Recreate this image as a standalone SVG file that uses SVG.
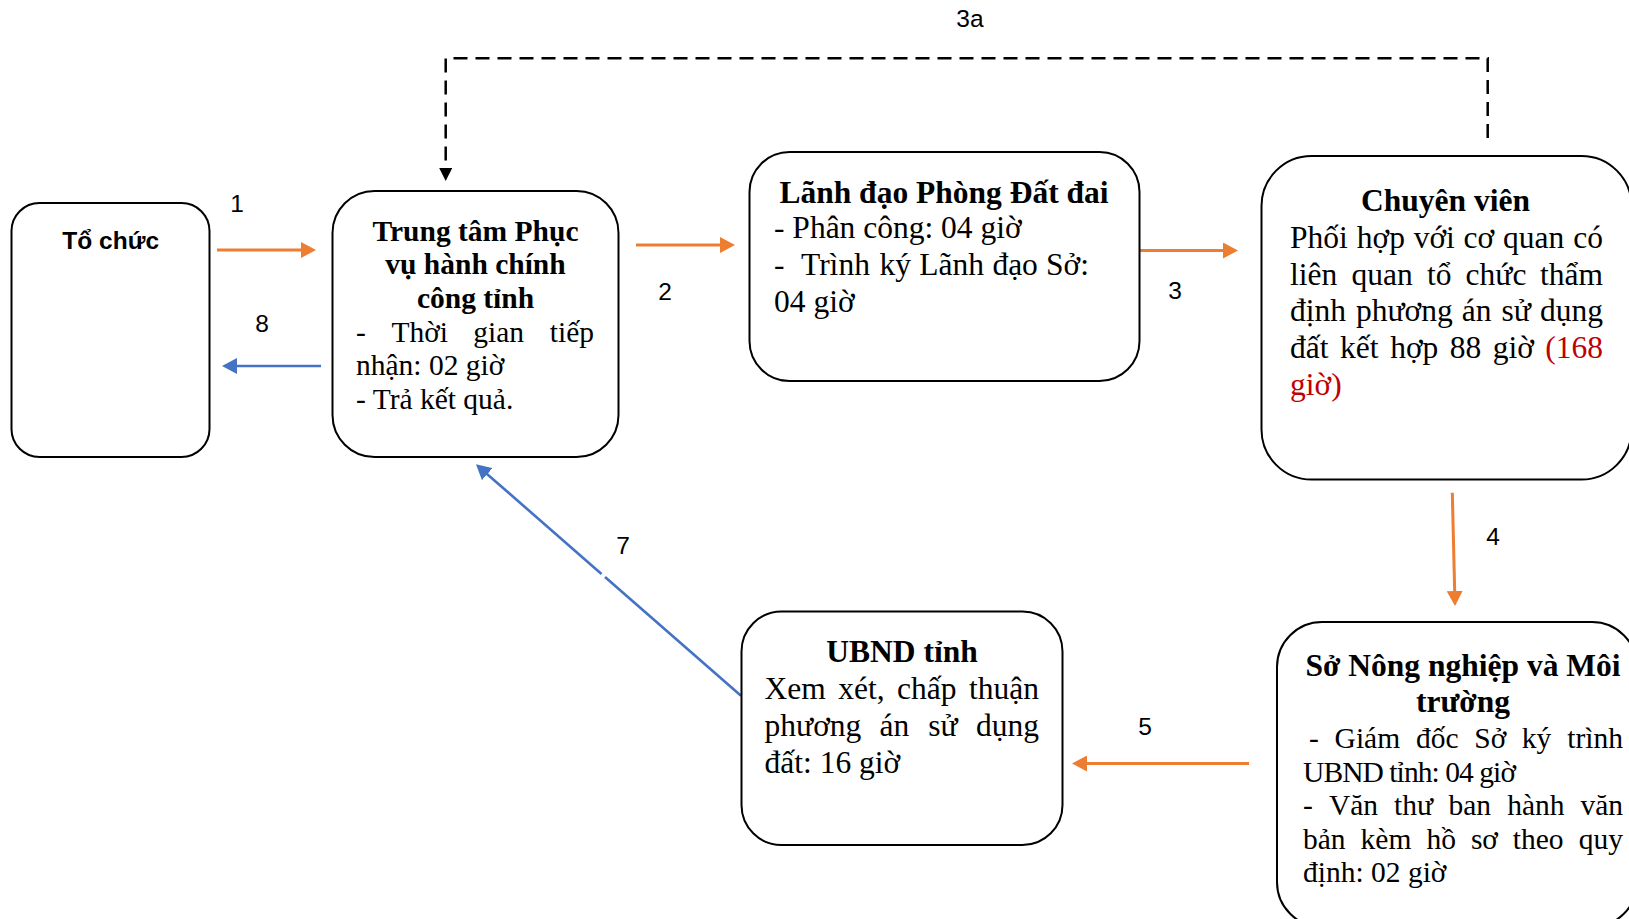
<svg xmlns="http://www.w3.org/2000/svg" width="1629" height="919" viewBox="0 0 1629 919">
<style>
.box{fill:#fff;stroke:#000;stroke-width:2}
.t{font-family:"Liberation Serif","Times New Roman",serif;font-size:31.5px;fill:#000}
.s{font-size:29.5px}
.b{font-weight:bold}
.c{text-anchor:middle}
.e{text-anchor:end}
.red{fill:#C00000}
.lbl{font-family:"Liberation Sans",Arial,sans-serif;font-size:24.5px;text-anchor:middle;fill:#000}
.org{stroke:#ED7D31;stroke-width:3;fill:none}
.blu{stroke:#4472C4;stroke-width:2.6;fill:none}
.dash{stroke:#000;stroke-width:2.5;fill:none;stroke-dasharray:14 8}
</style>
<defs>
<marker id="ao" markerWidth="16" markerHeight="16" refX="5" refY="8" orient="auto" markerUnits="userSpaceOnUse"><path d="M0,0 L15,8 L0,16 z" fill="#ED7D31"/></marker>
<marker id="ab" markerWidth="16" markerHeight="16" refX="5" refY="8" orient="auto" markerUnits="userSpaceOnUse"><path d="M0,0 L15,8 L0,16 z" fill="#4472C4"/></marker>
<marker id="ak" markerWidth="14" markerHeight="14" refX="4" refY="6.5" orient="auto" markerUnits="userSpaceOnUse"><path d="M0,0 L13,6.5 L0,13 z" fill="#000"/></marker>
</defs>
<rect width="1629" height="919" fill="#fff"/>

<g id="connectors">
<line class="org" x1="217" y1="250" x2="306" y2="250" marker-end="url(#ao)"/>
<line class="blu" x1="321" y1="366" x2="232" y2="366" marker-end="url(#ab)"/>
<line class="org" x1="636" y1="245" x2="725" y2="245" marker-end="url(#ao)"/>
<line class="org" x1="1140" y1="250.5" x2="1228" y2="250.5" marker-end="url(#ao)"/>
<line class="org" x1="1452.3" y1="492.7" x2="1454.8" y2="596" marker-end="url(#ao)"/>
<line class="org" x1="1249" y1="763.5" x2="1082" y2="763.5" marker-end="url(#ao)"/>
<line class="blu" x1="741" y1="695.7" x2="605" y2="577"/>
<line class="blu" x1="601.5" y1="573.9" x2="483.5" y2="470.9" marker-end="url(#ab)"/>
<path class="dash" d="M1487.7,138 V58.2 H445.7 V172" marker-end="url(#ak)"/>
<text class="lbl" x="237" y="212">1</text>
<text class="lbl" x="262" y="332">8</text>
<text class="lbl" x="665" y="300">2</text>
<text class="lbl" x="1175" y="298.5">3</text>
<text class="lbl" x="970" y="27">3a</text>
<text class="lbl" x="1493" y="545">4</text>
<text class="lbl" x="1145" y="735">5</text>
<text class="lbl" x="623" y="553.5">7</text>
</g>

<g id="to-chuc">
<rect class="box" x="11.5" y="203" width="198" height="254" rx="28"/>
<text x="110.7" y="249" font-family="Liberation Sans, Arial, sans-serif" font-size="24.5" font-weight="bold" text-anchor="middle">Tổ chức</text>
</g>

<g id="trung-tam">
<rect class="box" x="332.5" y="191" width="286" height="266" rx="42"/>
<text class="t s b c" x="475.5" y="240.5">Trung tâm Phục</text>
<text class="t s b c" x="475.5" y="273.5">vụ hành chính</text>
<text class="t s b c" x="475.5" y="307.5">công tỉnh</text>
<text class="t s" y="341.5"><tspan x="356">-</tspan><tspan x="391.4">Thời</tspan><tspan x="473.3">gian</tspan></text>
<text class="t s e" x="594" y="341.5">tiếp</text>
<text class="t s" x="356" y="375">nhận: 02 giờ</text>
<text class="t s" x="356" y="409">- Trả kết quả.</text>
</g>

<g id="lanh-dao">
<rect class="box" x="749.5" y="152" width="390" height="229" rx="40"/>
<text class="t b c" x="944" y="202.5">Lãnh đạo Phòng Đất đai</text>
<text class="t" x="774" y="238">- Phân công: 04 giờ</text>
<text class="t" y="275"><tspan x="774">-</tspan><tspan x="801">Trình</tspan><tspan x="879.4">ký</tspan><tspan x="919.3">Lãnh</tspan><tspan x="992.4">đạo</tspan></text>
<text class="t e" x="1089" y="275">Sở:</text>
<text class="t" x="774" y="312">04 giờ</text>
</g>

<g id="chuyen-vien">
<rect class="box" x="1261.5" y="156" width="370" height="323.5" rx="50"/>
<text class="t b c" x="1445.5" y="210.5">Chuyên viên</text>
<text class="t" y="248"><tspan x="1290">Phối</tspan><tspan x="1356.8">hợp</tspan><tspan x="1413.7">với</tspan><tspan x="1463.6">cơ</tspan><tspan x="1503">quan</tspan></text>
<text class="t e" x="1603" y="248">có</text>
<text class="t" y="284.5"><tspan x="1290">liên</tspan><tspan x="1351.5">quan</tspan><tspan x="1426.9">tổ</tspan><tspan x="1465.6">chức</tspan></text>
<text class="t e" x="1603" y="284.5">thẩm</text>
<text class="t" y="321"><tspan x="1290">định</tspan><tspan x="1356">phương</tspan><tspan x="1461.8">án</tspan><tspan x="1501.5">sử</tspan></text>
<text class="t e" x="1603" y="321">dụng</text>
<text class="t" y="358"><tspan x="1290">đất</tspan><tspan x="1340.1">kết</tspan><tspan x="1390.2">hợp</tspan><tspan x="1449.7">88</tspan><tspan x="1492.8">giờ</tspan></text>
<text class="t e red" x="1603" y="358">(168</text>
<text class="t red" x="1290" y="394.5">giờ)</text>
</g>

<g id="so-nong-nghiep">
<rect class="box" x="1277" y="622" width="360" height="305" rx="45"/>
<text class="t b c" x="1463" y="675.5">Sở Nông nghiệp và Môi</text>
<text class="t b c" x="1463" y="711.5">trường</text>
<text class="t s" y="747.5"><tspan x="1309">-</tspan><tspan x="1334.6">Giám</tspan><tspan x="1415.9">đốc</tspan><tspan x="1474.3">Sở</tspan><tspan x="1521.8">ký</tspan></text>
<text class="t s e" x="1623" y="747.5">trình</text>
<text class="t s" x="1303" y="781.5" textLength="213" lengthAdjust="spacing">UBND tỉnh: 04 giờ</text>
<text class="t s" y="814.5"><tspan x="1303">-</tspan><tspan x="1328.9">Văn</tspan><tspan x="1394.1">thư</tspan><tspan x="1448.5">ban</tspan><tspan x="1507.2">hành</tspan></text>
<text class="t s e" x="1623" y="814.5">văn</text>
<text class="t s" y="848.5"><tspan x="1303">bản</tspan><tspan x="1360.6">kèm</tspan><tspan x="1426.4">hồ</tspan><tspan x="1470.9">sơ</tspan><tspan x="1512.7">theo</tspan></text>
<text class="t s e" x="1623" y="848.5">quy</text>
<text class="t s" x="1303" y="882">định: 02 giờ</text>
</g>

<g id="ubnd">
<rect class="box" x="741.5" y="611.5" width="321" height="233.5" rx="40"/>
<text class="t b c" x="902" y="661.5">UBND tỉnh</text>
<text class="t" y="698.5"><tspan x="764.6">Xem</tspan><tspan x="838.2">xét,</tspan><tspan x="897">chấp</tspan></text>
<text class="t e" x="1039" y="698.5">thuận</text>
<text class="t" y="735.5"><tspan x="764.6">phương</tspan><tspan x="879.5">án</tspan><tspan x="928.3">sử</tspan></text>
<text class="t e" x="1039" y="735.5">dụng</text>
<text class="t" x="764.6" y="772.5">đất: 16 giờ</text>
</g>
</svg>
